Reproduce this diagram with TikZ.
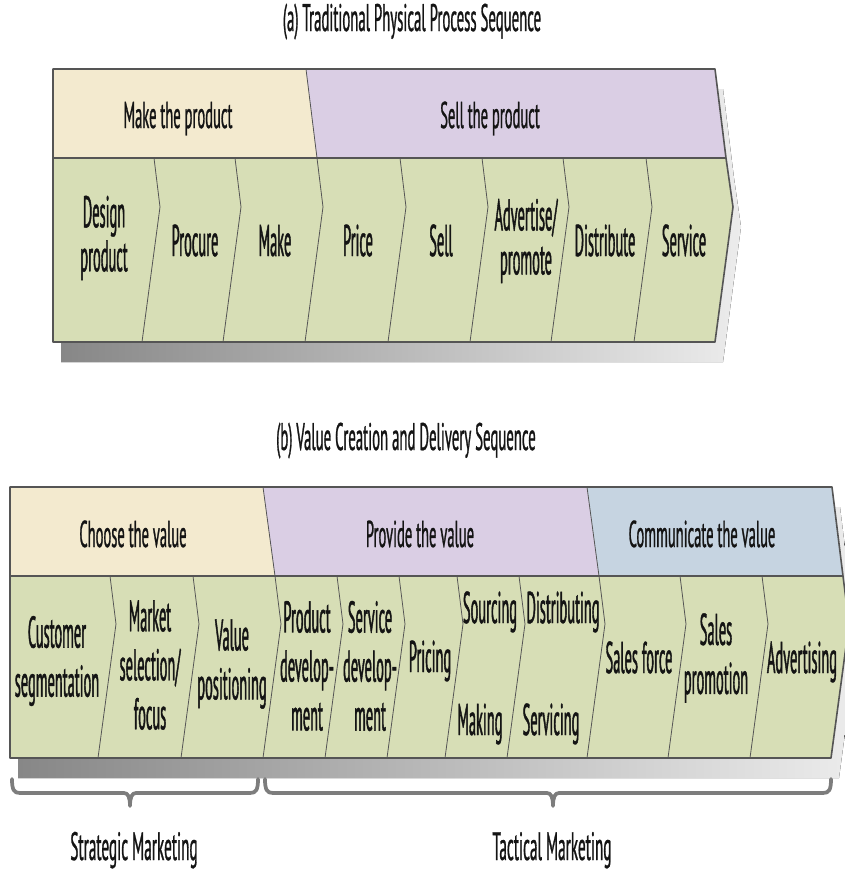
\documentclass[tikz,border=0pt]{standalone}
\usepackage{fontspec}
\setmainfont{PT Sans}
\newfontfamily\cellfam[FakeStretch=0.325,FakeBold=0.9]{PT Sans}
\newfontfamily\headfam[FakeStretch=0.39,FakeBold=0.7]{PT Sans}
\newfontfamily\titlefam[FakeStretch=0.385,FakeBold=0.7]{PT Sans}
\definecolor{tanc}{RGB}{243,234,207}
\definecolor{lavc}{RGB}{218,206,228}
\definecolor{bluc}{RGB}{198,212,225}
\definecolor{grnc}{RGB}{215,222,182}
\definecolor{edgec}{RGB}{85,85,85}
\definecolor{shL}{RGB}{135,135,135}
\definecolor{shR}{RGB}{236,236,236}
\definecolor{txtc}{RGB}{20,20,20}
\definecolor{bracec}{RGB}{125,125,125}
\begin{document}
\begin{tikzpicture}[x=0.75pt,y=-0.75pt]
\tikzset{
  rim/.style={draw=edgec, line width=1.2pt, line join=round},
  sepline/.style={draw=edgec, line width=0.6pt, line join=round},
  hsep/.style={draw=edgec, line width=1.4pt},
  cellA/.style={font=\cellfam\fontsize{33.3}{33}\selectfont, text=txtc, align=center, inner sep=0pt},
  cellB/.style={font=\cellfam\fontsize{33.3}{36.75}\selectfont, text=txtc, align=center, inner sep=0pt},
  headf/.style={font=\headfam\fontsize{28}{32}\selectfont, text=txtc, inner sep=0pt, anchor=base},
  titlef/.style={font=\titlefam\fontsize{28.8}{33}\selectfont, text=txtc, inner sep=0pt, anchor=base},
  labf/.style={font=\titlefam\fontsize{29.7}{34}\selectfont, text=txtc, inner sep=0pt, anchor=base},
  shadowfill/.style={left color=shL, right color=shR},
  bracepath/.style={draw=bracec, line width=2.8pt, line cap=round, line join=round}
}
\useasboundingbox (0,0) rectangle (845,872);

% ================= (a) =================
\node[titlef] (titleA) at (412,31) {(a) Traditional Physical Process Sequence};

\fill[shadowfill] (61,89) -- (723,89) -- (734,178) -- (741,227) -- (723,362) -- (61,362) -- cycle;
\fill[tanc] (53,69) -- (306,69) -- (317,158) -- (53,158) -- cycle;
\fill[lavc] (306,69) -- (715,69) -- (726,158) -- (317,158) -- cycle;
\fill[grnc] (53,158) -- (726,158) -- (733,207) -- (715,342) -- (53,342) -- cycle;
\foreach \t in {154,235,317,400,482,563,646}
  \draw[sepline] (\t,158) -- (\t+6,207) -- (\t-12,342);
\draw[sepline] (306,69) -- (317,158);
\draw[hsep] (53,158) -- (726,158);
\draw[rim] (53,69) -- (715,69) -- (726,158) -- (733,207) -- (715,342) -- (53,342) -- cycle;

\node[headf] (makeprod) at (178,128) {Make the product};
\node[headf] (sellprod) at (490,128) {Sell the product};

\node[cellA] (design) at (104,238) {Design\\product};
\node[cellA, anchor=base] (procure) at (195,256) {Procure};
\node[cellA, anchor=base] (make) at (275,256) {Make};
\node[cellA, anchor=base] (price) at (358,256) {Price};
\node[cellA, anchor=base] (sell) at (441,256) {Sell};
\node[cellA] (advert) at (526,241) {Advertise/\\promote};
\node[cellA, anchor=base] (distribute) at (605,256) {Distribute};
\node[cellA, anchor=base] (service) at (684,256) {Service};

% ================= (b) =================
\node[titlef] (titleB) at (406,450) {(b) Value Creation and Delivery Sequence};

\fill[shadowfill] (18,507) -- (840,507) -- (851,596) -- (857,644) -- (839,778) -- (18,778) -- cycle;
\fill[tanc] (10,487) -- (263,487) -- (275,576) -- (10,576) -- cycle;
\fill[lavc] (263,487) -- (587,487) -- (599,576) -- (275,576) -- cycle;
\fill[bluc] (587,487) -- (832,487) -- (843,576) -- (599,576) -- cycle;
\fill[grnc] (10,576) -- (843,576) -- (849,624) -- (831,758) -- (10,758) -- cycle;
\foreach \t in {110,193,275,337,399,457,519,599,680,762}
  \draw[sepline] (\t,576) -- (\t+6,624) -- (\t-12,758);
\draw[sepline] (263,487) -- (275,576);
\draw[sepline] (587,487) -- (599,576);
\draw[hsep] (10,576) -- (843,576);
\draw[rim] (10,487) -- (832,487) -- (843,576) -- (849,624) -- (831,758) -- (10,758) -- cycle;

\node[headf] (choose) at (133,547) {Choose the value};
\node[headf] (provide) at (420,547) {Provide the value};
\node[headf] (communicate) at (702,547) {Communicate the value};

\node[cellB] (customer) at (57,661) {Customer\\segmentation};
\node[cellB] (market) at (150,665) {Market\\selection/\\focus};
\node[cellB] (valuepos) at (232,664) {Value\\positioning};
\node[cellB] (proddev) at (307,666) {Product\\develop-\\ment};
\node[cellB] (servdev) at (370,666) {Service\\develop-\\ment};
\node[cellB, anchor=base] (pricing) at (430,672) {Pricing};
\node[cellB, anchor=base] (sourcing) at (490,623) {Sourcing};
\node[cellB, anchor=base] (making) at (480,735) {Making};
\node[cellB, anchor=base] (distributing) at (563,623) {Distributing};
\node[cellB, anchor=base] (servicing) at (551,735) {Servicing};
\node[cellB, anchor=base] (salesforce) at (639,673) {Sales force};
\node[cellB] (salespromo) at (716,658) {Sales\\promotion};
\node[cellB, anchor=base] (advertising) at (802,673) {Advertising};

% braces
\draw[bracepath] (12,779) .. controls (12,790) and (14,793) .. (20,793) -- (124,793)
  .. controls (128,793) and (130,797) .. (130,806)
  .. controls (130,797) and (132,793) .. (136,793) -- (250,793)
  .. controls (256,793) and (258,790) .. (258,779);
\draw[bracepath] (265,779) .. controls (265,790) and (267,793) .. (273,793) -- (547,793)
  .. controls (551,793) and (553,797) .. (553,806)
  .. controls (553,797) and (555,793) .. (559,793) -- (823,793)
  .. controls (829,793) and (831,790) .. (831,779);

\node[labf] (strategic) at (134,860) {Strategic Marketing};
\node[labf] (tactical) at (552,860) {Tactical Marketing};
\end{tikzpicture}
\end{document}
